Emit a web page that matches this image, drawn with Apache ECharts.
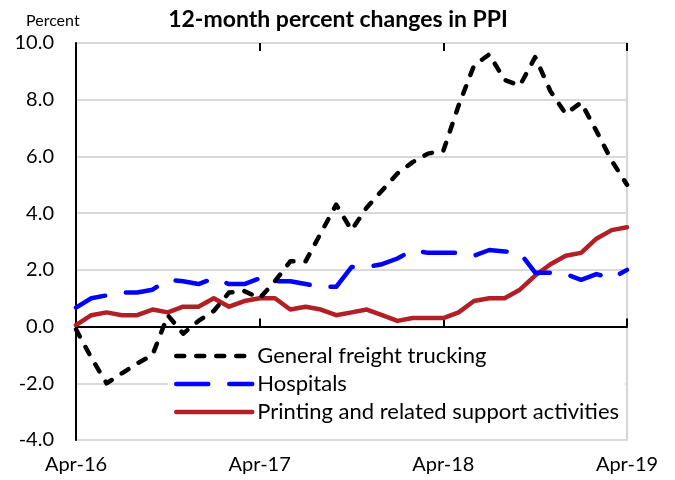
<!DOCTYPE html>
<html>
<head>
<meta charset="utf-8">
<script src="https://cdn.jsdelivr.net/npm/echarts@6/dist/echarts.min.js"></script>
<style>html,body{margin:0;padding:0;background:#fff;}#c{width:675px;height:480px;}</style>
</head>
<body>
<div id="c"></div>
<script>
const months = ['Apr-16','May-16','Jun-16','Jul-16','Aug-16','Sep-16','Oct-16','Nov-16','Dec-16',
  'Jan-17','Feb-17','Mar-17','Apr-17','May-17','Jun-17','Jul-17','Aug-17','Sep-17','Oct-17','Nov-17','Dec-17',
  'Jan-18','Feb-18','Mar-18','Apr-18','May-18','Jun-18','Jul-18','Aug-18','Sep-18','Oct-18','Nov-18','Dec-18',
  'Jan-19','Feb-19','Mar-19','Apr-19'];
const freight = [-0.1,-1.1,-2.0,-1.65,-1.3,-1.0,0.4,-0.25,0.2,0.55,1.2,1.25,1.0,1.6,2.3,2.3,3.3,4.3,3.4,4.2,4.8,5.4,5.8,6.1,6.2,7.8,9.2,9.6,8.7,8.5,9.5,8.3,7.5,7.9,6.9,5.85,5.0];
const hospitals = [0.67,1.0,1.1,1.2,1.2,1.3,1.65,1.6,1.5,1.7,1.5,1.5,1.7,1.6,1.6,1.5,1.4,1.4,2.1,2.1,2.2,2.4,2.7,2.6,2.6,2.6,2.5,2.7,2.65,2.6,1.9,1.9,1.85,1.65,1.85,1.7,2.0];
const printing = [0.05,0.4,0.5,0.4,0.4,0.6,0.5,0.7,0.7,1.0,0.7,0.9,1.0,1.0,0.6,0.7,0.6,0.4,0.5,0.6,0.4,0.2,0.3,0.3,0.3,0.5,0.9,1.0,1.0,1.3,1.8,2.2,2.5,2.6,3.1,3.4,3.5];
const seriesNames = ['General freight trucking','Hospitals','Printing and related support activities'];
const yMin = -4, yMax = 10, yStep = 2;

const FONT = 'Lato';
const chart = echarts.init(document.getElementById('c'), null, {renderer:'canvas'});
chart.setOption({
  animation: false,
  backgroundColor: '#fff',
  title: [
    {text: '12-month percent changes in PPI', left: 333, top: 3, textAlign: 'center',
     textStyle: {fontFamily: FONT, fontSize: 23, fontWeight: 'bold', color: '#000'}},
    {text: 'Percent', left: 21, top: 8,
     textStyle: {fontFamily: FONT, fontSize: 16, fontWeight: 'normal', color: '#000'}}
  ],
  grid: {left: 76, right: 48, top: 43, bottom: 40, show: true, borderColor: '#c8c8c8', borderWidth: 1.5, backgroundColor: 'transparent'},
  legend: {
    orient: 'vertical', left: 168, top: 343, itemWidth: 76, itemHeight: 20, itemGap: 6,
    backgroundColor: '#fff', padding: [2, 6, 3, 6],
    itemStyle: {opacity: 0},
    lineStyle: {width: 4.5, cap: 'round'},
    textStyle: {fontFamily: FONT, fontSize: 22, color: '#000'},
    data: seriesNames
  },
  xAxis: [
    {type: 'category', data: months, boundaryGap: false, position: 'bottom',
     axisLine: {show: false, onZero: false}, axisTick: {show: false},
     axisLabel: {interval: 11, fontFamily: FONT, fontSize: 20, color: '#000', margin: 15}, splitLine: {show: false}},
    {type: 'category', data: months, boundaryGap: false, gridIndex: 0,
     axisLine: {show: true, onZero: true, lineStyle: {color: '#000', width: 2}},
     axisTick: {show: true, interval: 11, length: 8, inside: false, lineStyle: {color: '#000', width: 2}},
     axisLabel: {show: false}, splitLine: {show: false}},
    {type: 'category', data: months, boundaryGap: false, gridIndex: 0,
     axisLine: {show: false, onZero: true},
     axisTick: {show: true, interval: 11, length: 8, inside: true, lineStyle: {color: '#000', width: 2}},
     axisLabel: {show: false}, splitLine: {show: false}}
  ],
  yAxis: {
    type: 'value', min: yMin, max: yMax, interval: yStep,
    axisLine: {show: true, onZero: false, lineStyle: {color: '#000', width: 2}},
    axisTick: {show: false},
    axisLabel: {fontFamily: FONT, fontSize: 20, color: '#000', margin: 22, formatter: v => v.toFixed(1)},
    splitLine: {show: true, lineStyle: {color: '#d9d9d9', width: 2}}
  },
  series: [
    {name: seriesNames[0], type: 'line', data: freight, symbol: 'none', z: 3,
     lineStyle: {color: '#000', width: 4.5, type: [8, 12], cap: 'round', join: 'round'}, itemStyle: {color: '#000'}},
    {name: seriesNames[1], type: 'line', data: hospitals, symbol: 'none', z: 2,
     lineStyle: {color: '#0000ff', width: 4.5, type: [32, 21], cap: 'round', join: 'round'}, itemStyle: {color: '#0000ff'}},
    {name: seriesNames[2], type: 'line', data: printing, symbol: 'none', z: 1,
     lineStyle: {color: '#b22025', width: 4.5, type: 'solid', cap: 'round', join: 'round'}, itemStyle: {color: '#b22025'}}
  ]
});
</script>
</body>
</html>
